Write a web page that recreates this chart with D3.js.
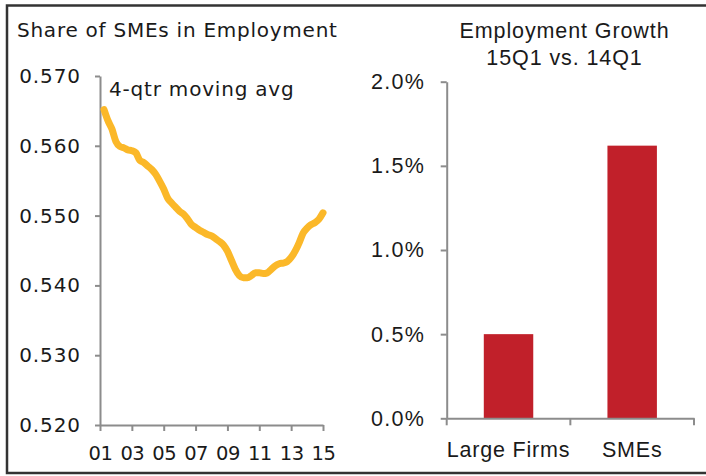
<!DOCTYPE html>
<html>
<head>
<meta charset="utf-8">
<script src="https://cdn.jsdelivr.net/npm/d3@7"></script>
<style>
  body { margin: 0; background: #fff; }
  svg text { fill: #1a1a1a; }
</style>
</head>
<body>
<svg id="chart" width="706" height="476"></svg>
<script>
// left panel: share of SMEs in employment, 4-qtr moving avg, 01Q2 .. 15Q1
var shareStart = 2001.25;
var shareValues = [
  0.5652, 0.5636, 0.5624, 0.5606, 0.5599, 0.5597, 0.5594, 0.5593,
  0.5590, 0.5579, 0.5576, 0.5571, 0.5566, 0.5559, 0.5549, 0.5538,
  0.5525, 0.5518, 0.5512, 0.5506, 0.5502, 0.5495, 0.5487, 0.5483,
  0.5479, 0.5476, 0.5473, 0.5471, 0.5467, 0.5463, 0.5458, 0.5449,
  0.5436, 0.5423, 0.5414, 0.5411, 0.5411, 0.5414, 0.5418, 0.5418,
  0.5417, 0.5418, 0.5423, 0.5428, 0.5431, 0.5432, 0.5434, 0.5440,
  0.5449, 0.5461, 0.5475, 0.5482, 0.5487, 0.5490, 0.5495, 0.5504
];
var shareYTicks = [0.520, 0.530, 0.540, 0.550, 0.560, 0.570];
var shareXTicks = [2001, 2003, 2005, 2007, 2009, 2011, 2013, 2015];

// right panel: employment growth 15Q1 vs 14Q1 (%)
var growthCategories = ["Large Firms", "SMEs"];
var growthValues = [0.50, 1.62];
var growthTicks = [0, 0.5, 1.0, 1.5, 2.0];

var axisColor = "#8c8c8c";
var leftFont = "\"DejaVu Sans\", Verdana, sans-serif";
var rightFont = "\"Liberation Sans\", Arial, sans-serif";
var svg = d3.select("#chart");

// outer frame (right edge runs off the picture)
svg.append("rect")
  .attr("x", 7).attr("y", 5.5)
  .attr("width", 760).attr("height", 467.5)
  .attr("fill", "none")
  .attr("stroke", "#333")
  .attr("stroke-width", 2.5);

function styleAxis(g, font, size, spacing) {
  g.select(".domain").attr("stroke", axisColor).attr("stroke-width", 2);
  g.selectAll(".tick line").attr("stroke", axisColor).attr("stroke-width", 2);
  g.selectAll("text")
    .attr("fill", "#1a1a1a")
    .style("font-size", size + "px")
    .style("font-family", font)
    .style("letter-spacing", spacing + "px");
}

// ---------- left panel ----------
var x = d3.scaleLinear().domain([2001, 2015]).range([100, 323]);
var y = d3.scaleLinear().domain([0.520, 0.570]).range([425, 76]);

svg.append("text")
  .attr("x", 17).attr("y", 37)
  .style("font-family", leftFont)
  .style("font-size", "20px")
  .style("letter-spacing", "0.75px")
  .text("Share of SMEs in Employment");

var yAxisL = svg.append("g")
  .attr("transform", "translate(" + x.range()[0] + ",0)")
  .call(d3.axisLeft(y).tickValues(shareYTicks).tickSize(5).tickSizeOuter(0)
    .tickPadding(14).tickFormat(d3.format(".3f")));
styleAxis(yAxisL, leftFont, 20, 0.9);

var xAxisL = svg.append("g")
  .attr("transform", "translate(0," + y.range()[0] + ")")
  .call(d3.axisBottom(x).tickValues(shareXTicks).tickSize(6).tickSizeOuter(0)
    .tickPadding(15.5).tickFormat(function(d) { return String(d).slice(2); }));
styleAxis(xAxisL, leftFont, 19.5, -0.5);

svg.append("text")
  .attr("x", 109).attr("y", 96)
  .style("font-family", leftFont)
  .style("font-size", "20px")
  .style("letter-spacing", "0.8px")
  .text("4-qtr moving avg");

var line = d3.line()
  .x(function(d, i) { return x(shareStart + i / 4); })
  .y(function(d) { return y(d); })
  .curve(d3.curveMonotoneX);

svg.append("path")
  .datum(shareValues)
  .attr("d", line)
  .attr("fill", "none")
  .attr("stroke", "#FBB829")
  .attr("stroke-width", 7)
  .attr("stroke-linecap", "round")
  .attr("stroke-linejoin", "round");

// ---------- right panel ----------
var xb = d3.scaleBand().domain(growthCategories).range([446.7, 694]);
var yr = d3.scaleLinear().domain([0, 2.0]).range([418.3, 81.7]);

var titleR = svg.append("text")
  .attr("x", 564.5).attr("y", 38)
  .attr("text-anchor", "middle")
  .style("font-family", rightFont)
  .style("font-size", "21.5px")
  .style("letter-spacing", "0.9px");
titleR.append("tspan").attr("x", 564.5).text("Employment Growth");
titleR.append("tspan").attr("x", 564.5).attr("dy", 27).text("15Q1 vs. 14Q1");

svg.selectAll(".bar")
  .data(growthValues)
  .enter().append("rect")
  .attr("class", "bar")
  .attr("x", function(d, i) { return xb(growthCategories[i]) + xb.bandwidth() * 0.3; })
  .attr("width", xb.bandwidth() * 0.4)
  .attr("y", function(d) { return yr(d); })
  .attr("height", function(d) { return yr(0) - yr(d); })
  .attr("fill", "#C1202A");

var yAxisR = svg.append("g")
  .attr("transform", "translate(" + xb.range()[0] + ",0)")
  .call(d3.axisLeft(yr).tickValues(growthTicks).tickSize(6).tickSizeOuter(0)
    .tickPadding(15.5).tickFormat(function(d) { return d.toFixed(1) + "%"; }));
styleAxis(yAxisR, rightFont, 21.5, 1.3);

var xAxisR = svg.append("g")
  .attr("transform", "translate(0," + yr.range()[0] + ")")
  .call(d3.axisBottom(xb).tickSize(0).tickSizeOuter(0).tickPadding(23));
styleAxis(xAxisR, rightFont, 21.5, 0.8);

// category boundary ticks
var edges = growthCategories.map(function(c) { return xb(c); }).concat([xb.range()[1]]);
xAxisR.selectAll(".edge")
  .data(edges)
  .enter().append("line")
  .attr("class", "edge")
  .attr("x1", function(d) { return d; })
  .attr("x2", function(d) { return d; })
  .attr("y1", 0).attr("y2", 7)
  .attr("stroke", axisColor)
  .attr("stroke-width", 2);
</script>
</body>
</html>
